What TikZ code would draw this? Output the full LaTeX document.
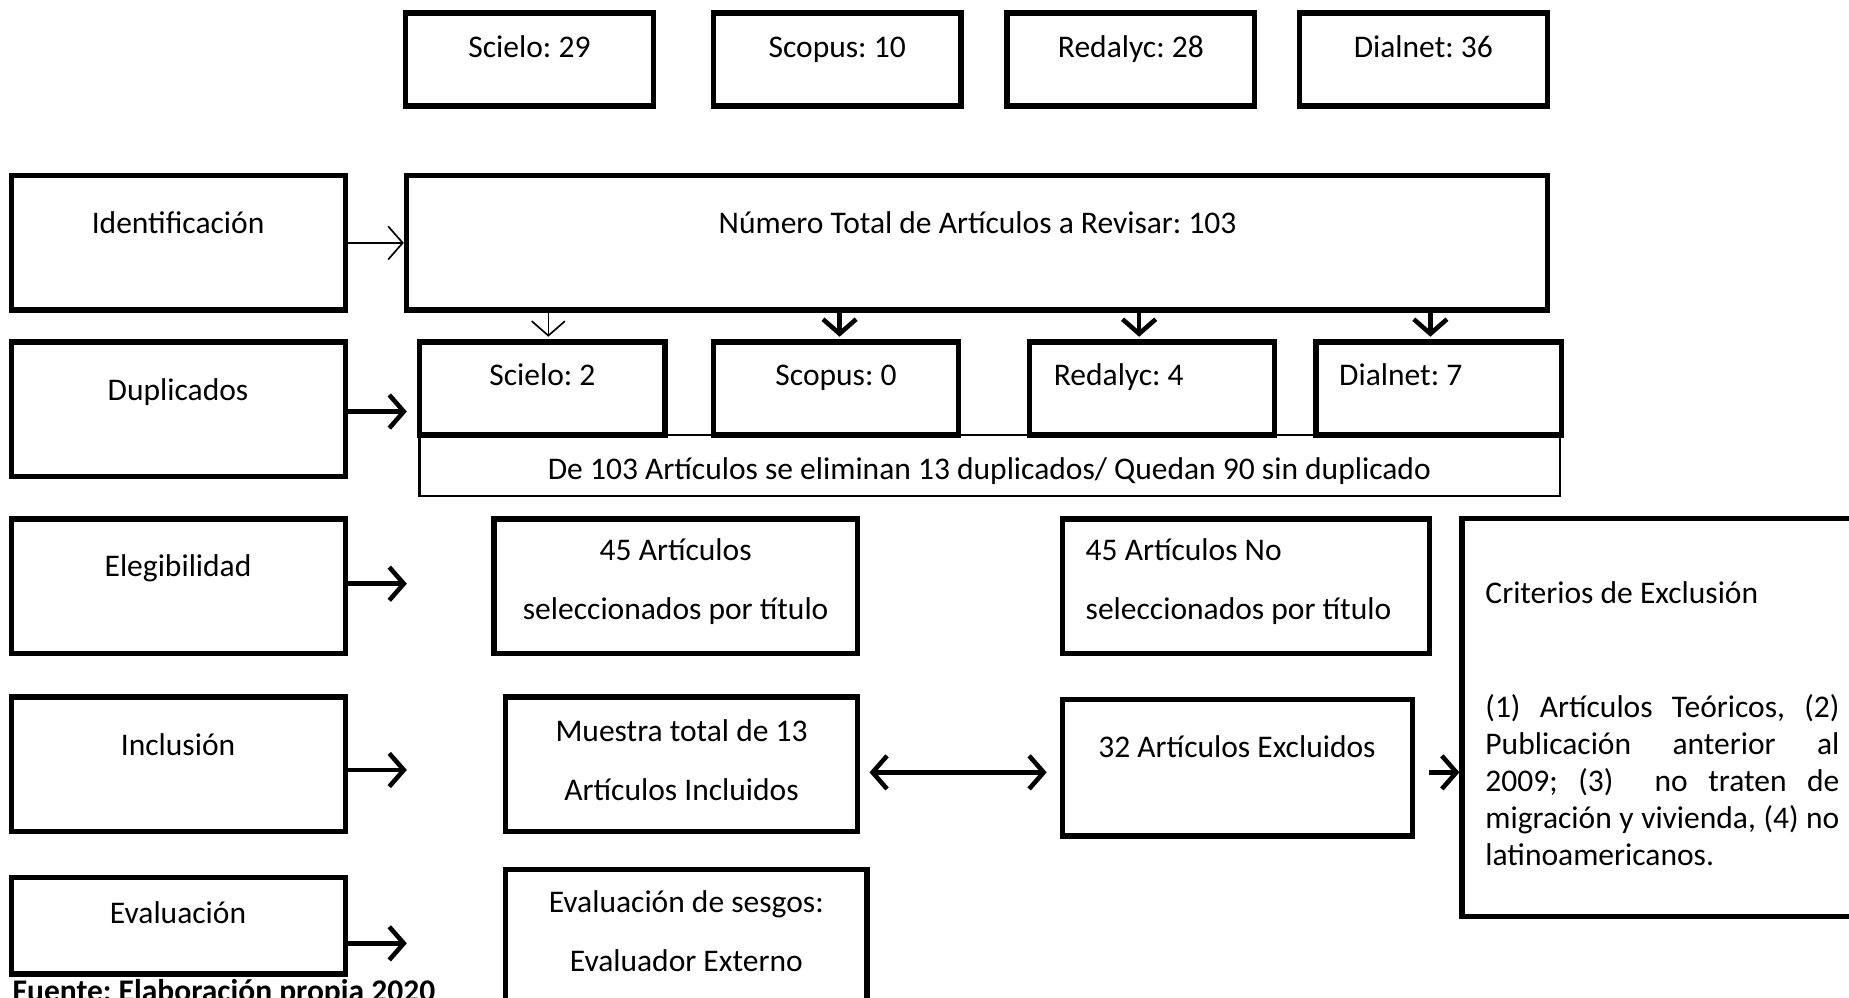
\documentclass[tikz,border=0pt]{standalone}
\usepackage{fontspec}
\setmainfont{Carlito}
\usetikzlibrary{arrows.meta}
\frenchspacing

\tikzset{
  box/.style={draw, line width=1.3pt, inner sep=0pt},
  thinbox/.style={draw, line width=0.5pt, inner sep=0pt},
  wh/.style 2 args={minimum width=#1cm, minimum height=#2cm},
  txt/.style={inner sep=0pt, text height=0.7em, text depth=0.2em, font=\fontsize{7.6}{9.2}\selectfont},
  twoline/.style={inner sep=0pt, align=center, font=\fontsize{7.6}{14.2}\selectfont},
  arr/.style={-{Straight Barb[length=3.5pt,width=8pt]}, line width=1.1pt},
  thinarr/.style={-{Straight Barb[length=3.5pt,width=8pt]}, line width=0.4pt},
}

\begin{document}
\begin{tikzpicture}[x=0.01cm, y=-0.01cm]
  \useasboundingbox (0,0) rectangle (1568,846);
  \clip (0,0) rectangle (1568,846);

  % bases de datos
  \node[box, wh={2.10}{0.79}] (scieloA) at (449,50.5) {};
  \node[box, wh={2.10}{0.79}] (scopusA) at (710,50.5) {};
  \node[box, wh={2.10}{0.79}] (redalycA) at (959,50.5) {};
  \node[box, wh={2.10}{0.79}] (dialnetA) at (1207,50.5) {};
  \node[txt] (scieloAt) at (449,40) {Scielo: 29};
  \node[txt] (scopusAt) at (710,40) {Scopus: 10};
  \node[txt] (redalycAt) at (959,40) {Redalyc: 28};
  \node[txt] (dialnetAt) at (1207,40) {Dialnet: 36};

  % fases
  \node[box, wh={2.83}{1.14}] (ident) at (151.5,206) {};
  \node[box, wh={2.83}{1.14}] (dupl) at (151.5,347) {};
  \node[box, wh={2.83}{1.14}] (eleg) at (151.5,497) {};
  \node[box, wh={2.83}{1.14}] (incl) at (151.5,648) {};
  \node[box, wh={2.83}{0.82}] (evalu) at (151.5,785) {};
  \node[txt] (identt) at (151,189) {Identificación};
  \node[txt] (duplt) at (151,331) {Duplicados};
  \node[txt] (elegt) at (151,480) {Elegibilidad};
  \node[txt] (inclt) at (151,632) {Inclusión};
  \node[txt] (evalut) at (151,774) {Evaluación};

  % identificacion
  \node[box, wh={9.67}{1.14}] (total) at (828.5,206) {};
  \node[txt] (totalt) at (829,189) {Número Total de Artículos a Revisar: 103};

  % duplicados
  \node[box, wh={2.08}{0.79}] (scieloB) at (460,329.5) {};
  \node[box, wh={2.08}{0.79}] (scopusB) at (709,329.5) {};
  \node[box, wh={2.08}{0.79}] (redalycB) at (977,329.5) {};
  \node[box, wh={2.08}{0.79}] (dialnetB) at (1220,329.5) {};
  \node[txt] (scieloBt) at (460,318) {Scielo: 2};
  \node[txt] (scopusBt) at (709,318) {Scopus: 0};
  \node[txt, anchor=west] (redalycBt) at (893,318) {Redalyc: 4};
  \node[txt, anchor=west] (dialnetBt) at (1135,318) {Dialnet: 7};
  \node[thinbox, wh={9.67}{0.52}] (strip) at (839.5,395) {};
  \node[txt] (stript) at (839,398) {De 103 Artículos se eliminan 13 duplicados/ Quedan 90 sin duplicado};

  % elegibilidad
  \node[box, wh={3.08}{1.14}] (sel) at (573,497) {};
  \node[twoline] (selt) at (573,493) {45 Artículos\\seleccionados por título};
  \node[box, wh={3.11}{1.14}] (nosel) at (1056.5,497) {};
  \node[twoline, align=left, anchor=west] (noselt) at (920,493) {45 Artículos No\\seleccionados por título};

  % criterios
  \node[box, wh={3.50}{3.37}] (crit) at (1415,608.5) {};
  \node[txt, anchor=west] (critt) at (1259,503) {Criterios de Exclusión};
  \node[inner sep=0pt, anchor=north west, text width=3.0cm, align=justify,
    font=\fontsize{7.6}{8.95}\selectfont] (critp) at (1259,588)
    {\hyphenpenalty=10000\relax
     (1) Artículos Teóricos, (2)\linebreak Publicación anterior al\linebreak
     2009; (3)\ \ no traten de\linebreak migración y vivienda, (4) no\linebreak
     latinoamericanos.};

  % inclusion
  \node[box, wh={2.98}{1.14}] (muestra) at (578,648) {};
  \node[twoline] (muestrat) at (578,645) {Muestra total de 13\\Artículos Incluidos};
  \node[box, wh={2.97}{1.16}] (excl) at (1049.5,651) {};
  \node[txt] (exclt) at (1049,634) {32 Artículos Excluidos};

  % evaluacion
  \node[box, wh={3.06}{1.15}] (sesgos) at (582,795) {};
  \node[twoline] (sesgost) at (582,790) {Evaluación de sesgos:\\Evaluador Externo};

  \node[inner sep=0pt, anchor=base west, font=\fontsize{7.6}{9}\selectfont\bfseries] (fuente)
    at (10,849) {Fuente: Elaboración propia 2020};

  % flechas
  \coordinate (duplEnd) at (345,349);
  \coordinate (elegEnd) at (345,495);
  \coordinate (inclEnd) at (345,653);
  \coordinate (evaluEnd) at (345,800);
  \coordinate (critIn) at (1212,655);
  \draw[thinarr] (ident) -- (total);
  \draw[arr] (dupl.east |- duplEnd) -- (duplEnd);
  \draw[arr] (eleg.east |- elegEnd) -- (elegEnd);
  \draw[arr] (incl.east |- inclEnd) -- (inclEnd);
  \draw[arr] (evalu.east |- evaluEnd) -- (evaluEnd);
  \draw[thinarr, shorten >=0.6pt] (total.south -| 465,0) -- (scieloB.north -| 465,0);
  \draw[arr, shorten >=0.6pt] (total.south -| 712,0) -- (scopusB.north -| 712,0);
  \draw[arr, shorten >=0.6pt] (total.south -| 966,0) -- (redalycB.north -| 966,0);
  \draw[arr, shorten >=0.6pt] (total.south -| 1213,0) -- (dialnetB.north -| 1213,0);
  \draw[arr, {Straight Barb[length=3.5pt,width=8pt]}-{Straight Barb[length=3.5pt,width=8pt]},
    shorten <=0.08cm, shorten >=0.11cm] (muestra.east |- critIn) -- (excl.west |- critIn);
  \draw[arr] (critIn) -- (crit.west |- critIn);
\end{tikzpicture}
\end{document}
